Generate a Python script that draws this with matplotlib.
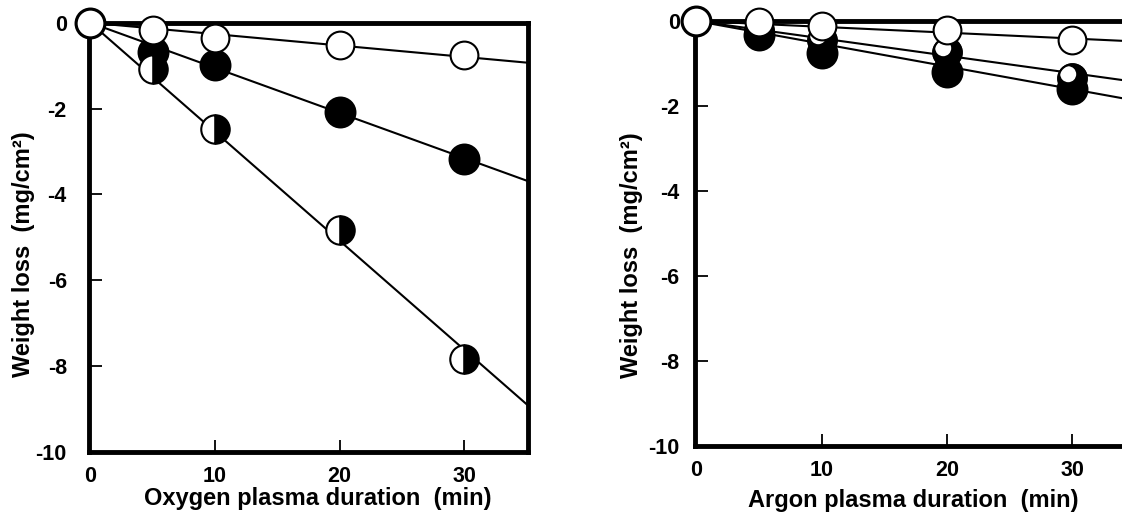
import matplotlib
matplotlib.use("Agg")
import matplotlib.pyplot as plt
from matplotlib.path import Path
import numpy as np

plt.rcParams['font.family'] = ['Liberation Sans', 'DejaVu Sans']
plt.rcParams['font.weight'] = 'bold'
plt.rcParams['axes.unicode_minus'] = False

# ---- data ----
time_min = [0, 5, 10, 20, 30]
fit_x = [0, 35]

oxy_open = [0, -0.18, -0.36, -0.53, -0.76]
oxy_filled = [0, -0.68, -0.98, -2.08, -3.17]
oxy_half = [0, -1.07, -2.47, -4.83, -7.84]
oxy_fit_open = [0, -0.93]
oxy_fit_filled = [0, -3.68]
oxy_fit_half = [0, -8.89]

arg_open = [0, -0.03, -0.11, -0.21, -0.45]
arg_filled = [0, -0.34, -0.76, -1.21, -1.60]
arg_half = [0, -0.20, -0.45, -0.74, -1.35]
arg_fit_open = [0, -0.48]
arg_fit_filled = [0, -1.87]
arg_fit_half = [0, -1.43]

xticks = [0, 10, 20, 30]
xticklabels = ['0', '10', '20', '30']
yticks = [0, -2, -4, -6, -8, -10]
yticklabels = ['0', '-2', '-4', '-6', '-8', '-10']

W, H = 1122, 518
fig = plt.figure(figsize=(W / 100, H / 100), dpi=100)

def px_axes(x0, x1, ytop, ybot):
    return fig.add_axes([x0 / W, (H - ybot) / H, (x1 - x0) / W, (ybot - ytop) / H])

ax1 = px_axes(89, 528, 22.7, 452)
ax2 = px_axes(695, 1136, 21, 446)

# highlight marker for argon half-filled circles (white patch top-left)
hl = Path.make_compound_path(Path([(1.0, 0.0)], [Path.MOVETO]),
                             Path.circle((-0.30, 0.30), 0.56))

LW = 1.5
ms_open, ms_fill, ms_half = 20, 21.5, 20.5
mew = 1.5
TICKFS = 15.5
LABFS = 17

def style(ax, ypad):
    ax.set_xlim(-0.1, 35.1)
    ax.set_ylim(-10, 0)
    for s in ax.spines.values():
        s.set_linewidth(3.5)
    ax.set_xticks(xticks)
    ax.set_xticklabels(xticklabels, fontsize=TICKFS, fontweight='bold')
    ax.set_yticks(yticks)
    ax.set_yticklabels(yticklabels, fontsize=TICKFS, fontweight='bold')
    ax.tick_params(axis='both', direction='in', length=9, width=1.3)
    ax.tick_params(axis='x', pad=10)
    ax.tick_params(axis='y', pad=ypad)

def fits(ax, a, b, c):
    for f in (a, b, c):
        ax.plot(fit_x, f, color='black', lw=LW, zorder=2, clip_on=False)

# Oxygen panel
fits(ax1, oxy_fit_open, oxy_fit_filled, oxy_fit_half)
ax1.plot(time_min, oxy_filled, ls='none', marker='o', ms=ms_fill, mfc='black',
         mec='black', mew=mew, zorder=3, clip_on=False)
ax1.plot(time_min[1:], oxy_half[1:], ls='none', marker='o', ms=ms_half, fillstyle='left',
         mfc='white', mfcalt='black', mec='black', mew=mew, zorder=4, clip_on=False)
ax1.plot(time_min, oxy_open, ls='none', marker='o', ms=ms_open, mfc='white',
         mec='black', mew=mew, zorder=5, clip_on=False)
style(ax1, 16)
ax1.set_xlabel('Oxygen plasma duration  (min)', fontsize=LABFS, fontweight='bold')
ax1.set_ylabel('Weight loss  (mg/cm²)', fontsize=LABFS, fontweight='bold')
ax1.xaxis.set_label_coords(0.52, -0.082)
ax1.yaxis.set_label_coords(-0.122, 0.46)

# Argon panel
fits(ax2, arg_fit_open, arg_fit_filled, arg_fit_half)
ax2.plot(time_min, arg_filled, ls='none', marker='o', ms=ms_fill, mfc='black',
         mec='black', mew=mew, zorder=3, clip_on=False)
ax2.plot(time_min[1:], arg_half[1:], ls='none', marker='o', ms=ms_half, mfc='black',
         mec='black', mew=mew, zorder=4, clip_on=False)
ax2.plot(time_min[1:], arg_half[1:], ls='none', marker=hl, ms=ms_half, mfc='white',
         mec='none', mew=0, zorder=4.1, clip_on=False)
ax2.plot(time_min[1:], arg_half[1:], ls='none', marker='o', ms=ms_half, mfc='none',
         mec='black', mew=mew, zorder=4.2, clip_on=False)
ax2.plot(time_min, arg_open, ls='none', marker='o', ms=ms_open, mfc='white',
         mec='black', mew=mew, zorder=5, clip_on=False)
style(ax2, 11)
ax2.set_xlabel('Argon plasma duration  (min)', fontsize=LABFS, fontweight='bold')
ax2.set_ylabel('Weight loss  (mg/cm²)', fontsize=LABFS, fontweight='bold')
ax2.xaxis.set_label_coords(0.494, -0.1)
ax2.yaxis.set_label_coords(-0.118, 0.45)

fig.savefig('out.png', dpi=100)
